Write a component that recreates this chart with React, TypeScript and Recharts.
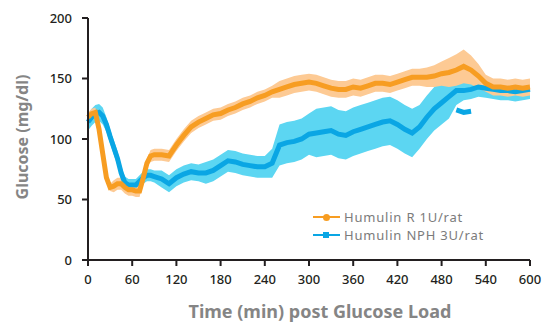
import { ComposedChart, Line, Area, XAxis, YAxis } from 'recharts';

// minutes after glucose load
const times = [
  0, 5, 10, 15, 20, 25, 30, 35, 40, 45, 50, 55, 60, 65, 70, 75, 80, 85, 90,
  100, 110, 120, 130, 140, 150, 160, 170, 180, 190, 200, 210, 220, 230, 240, 250,
  260, 270, 280, 290, 300, 310, 320, 330, 340, 350, 360, 370, 380, 390, 400, 410,
  420, 430, 440, 450, 460, 470, 480, 490, 500, 510, 520, 530, 540, 550, 560, 570,
  580, 590, 600,
];

// Humulin R 1U/rat
const rMean = [
  118, 121, 122, 108, 88, 68, 60, 61, 63, 63, 60, 58, 58, 57, 57, 68, 80, 86, 87,
  87, 86, 95, 103, 110, 114, 117, 120, 121, 124, 126, 129, 131, 134, 136, 139,
  141, 143, 145, 146, 147, 146, 144, 142, 141, 141, 143, 142, 144, 146, 146, 145,
  147, 149, 151, 151, 151, 152, 154, 155, 157, 160, 157, 152, 146, 143, 143, 142,
  143, 142, 143,
];
const rSd = [
  4, 4, 4, 3, 3, 3, 3, 5, 5, 5, 5, 5, 5, 5, 5, 4, 4, 5, 5,
  5, 5, 5, 5, 5, 5, 5, 5, 5, 5, 5, 5, 5, 5, 5, 5,
  7, 7, 7, 7, 7, 7, 7, 7, 7, 7, 7, 7, 7, 7, 7, 7,
  7, 7, 7, 7, 8, 9, 10, 12, 13, 14, 12, 10, 7, 7, 7, 7,
  7, 7, 7,
];

// Humulin NPH 3U/rat
const nphMean = [
  114, 118, 121, 122, 119, 112, 102, 93, 84, 72, 64, 62, 62, 62, 65, 68, 70, 70, 69,
  67, 63, 68, 71, 73, 72, 72, 74, 78, 82, 81, 79, 78, 77, 77, 80,
  95, 97, 98, 100, 104, 105, 106, 107, 104, 103, 106, 108, 110, 112, 114, 115,
  112, 108, 105, 110, 118, 125, 130, 135, 140, 140, 141, 143, 142, 141, 140, 140,
  139, 140, 141,
];
const nphSd = [
  7, 7, 7, 7, 7, 6, 6, 6, 6, 6, 5, 5, 5, 5, 5, 5, 5, 5, 5,
  7, 7, 7, 7, 7, 7, 9, 9, 9, 9, 9, 9, 9, 9, 9, 12,
  17, 17, 17, 17, 17, 20, 20, 20, 20, 20, 20, 20, 20, 20, 20, 20,
  20, 20, 20, 18, 18, 18, 18, 18, 12, 8, 8, 8, 8, 8, 8, 8,
  8, 8, 8,
];
// short detached segment of the NPH trace around 500-520 min
const nphDip: (number | null)[] = times.map((t) =>
  t === 500 ? 124 : t === 510 ? 122 : t === 520 ? 123 : null
);

const xTicks = [0, 60, 120, 180, 240, 300, 360, 420, 480, 540, 600];
const yTicks = [0, 50, 100, 150, 200];

const ORANGE = '#f79d22';
const ORANGE_BAND = '#fdca94';
const BLUE = '#0aa6e4';
const BLUE_BAND = '#5cd6f2';
const AXIS = '#231f20';
const FONT = '"Noto Sans", sans-serif';

const data = times.map((t, i) => ({
  t,
  r: rMean[i],
  rBand: [rMean[i] - rSd[i], rMean[i] + rSd[i]],
  nph: nphMean[i],
  nphBand: [nphMean[i] - nphSd[i], nphMean[i] + nphSd[i]],
  dip: nphDip[i],
}));

const tickStyle = { fontSize: 13, fill: AXIS, fontFamily: FONT, fontWeight: 500 };

export default function App() {
  return (
    <div style={{ position: 'absolute', left: 0, top: 0, width: 542, height: 322, background: '#fff', fontFamily: FONT }}>
      <ComposedChart
        width={542}
        height={322}
        data={data}
        margin={{ top: 18, right: 12, left: 28, bottom: 32 }}
      >
        <XAxis
          dataKey="t"
          type="number"
          domain={[0, 600]}
          ticks={xTicks}
          interval={0}
          tick={tickStyle}
          tickSize={6}
          tickMargin={9}
          axisLine={{ stroke: AXIS, strokeWidth: 2 }}
          tickLine={{ stroke: AXIS, strokeWidth: 2 }}
          height={30}
        />
        <YAxis
          type="number"
          domain={[0, 200]}
          ticks={yTicks}
          interval={0}
          tick={tickStyle}
          tickSize={6}
          tickMargin={10}
          axisLine={{ stroke: AXIS, strokeWidth: 2 }}
          tickLine={{ stroke: AXIS, strokeWidth: 2 }}
          width={60}
        />
        <Area dataKey="nphBand" stroke="none" fill={BLUE_BAND} fillOpacity={1} isAnimationActive={false} />
        <Area dataKey="rBand" stroke="none" fill={ORANGE_BAND} fillOpacity={1} isAnimationActive={false} />
        <Line dataKey="nph" stroke={BLUE} strokeWidth={5} dot={false} isAnimationActive={false} />
        <Line dataKey="dip" stroke={BLUE} strokeWidth={5} dot={false} connectNulls={false} isAnimationActive={false} />
        <Line dataKey="r" stroke={ORANGE} strokeWidth={5} dot={false} isAnimationActive={false} />
      </ComposedChart>

      {/* legend */}
      <div style={{ position: 'absolute', left: 313, top: 208, fontSize: 13, letterSpacing: 0.8, color: '#7b7b7b' }}>
        <div style={{ display: 'flex', alignItems: 'center', height: 18, lineHeight: '18px' }}>
          <span style={{ position: 'relative', width: 27, height: 16, marginRight: 4 }}>
            <span style={{ position: 'absolute', left: 0, top: 7, width: 27, height: 2, background: ORANGE }} />
            <span style={{ position: 'absolute', left: 10, top: 4.5, width: 7, height: 7, borderRadius: 4, background: ORANGE }} />
          </span>
          Humulin R 1U/rat
        </div>
        <div style={{ display: 'flex', alignItems: 'center', height: 18, lineHeight: '18px' }}>
          <span style={{ position: 'relative', width: 27, height: 16, marginRight: 4 }}>
            <span style={{ position: 'absolute', left: 0, top: 7, width: 27, height: 2, background: BLUE }} />
            <span style={{ position: 'absolute', left: 10, top: 5, width: 6, height: 6, background: BLUE }} />
          </span>
          Humulin NPH 3U/rat
        </div>
      </div>

      {/* axis titles */}
      <div style={{ position: 'absolute', left: 0, top: 299, width: 640, textAlign: 'center', fontSize: 18, fontWeight: 700, color: '#858585' }}>
        Time (min) post Glucose Load
      </div>
      <div
        style={{
          position: 'absolute',
          left: 22,
          top: 137,
          transform: 'translate(-50%, -50%) rotate(-90deg)',
          whiteSpace: 'nowrap',
          fontSize: 16,
          fontWeight: 700,
          color: '#858585',
        }}
      >
        Glucose (mg/dl)
      </div>
    </div>
  );
}
